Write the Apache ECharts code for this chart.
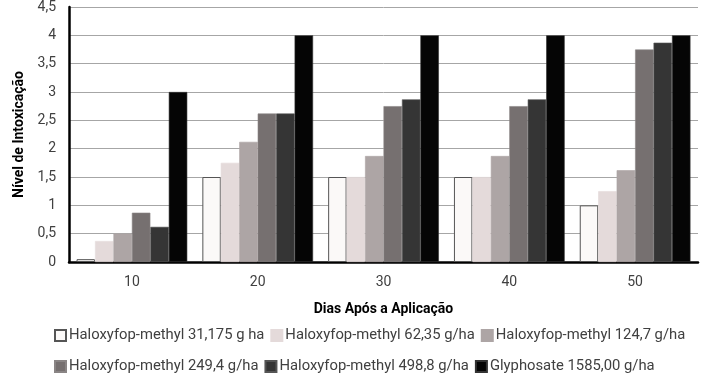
<!DOCTYPE html>
<html><head><meta charset="utf-8">
<script src="https://cdn.jsdelivr.net/npm/echarts@6/dist/echarts.min.js"></script>
<style>html,body{margin:0;padding:0;background:#fff}#c{width:702px;height:381px}</style>
</head><body><div id="c"></div>
<script>
const categories = ['10','20','30','40','50'];
const seriesNames = ['Haloxyfop-methyl 31,175 g ha','Haloxyfop-methyl 62,35 g/ha','Haloxyfop-methyl 124,7 g/ha','Haloxyfop-methyl 249,4 g/ha','Haloxyfop-methyl 498,8 g/ha','Glyphosate 1585,00 g/ha'];
const s1 = [0.05, 1.5, 1.5, 1.5, 1.0];
const s2 = [0.37, 1.75, 1.5, 1.5, 1.25];
const s3 = [0.5, 2.12, 1.87, 1.87, 1.62];
const s4 = [0.87, 2.62, 2.75, 2.75, 3.75];
const s5 = [0.62, 2.62, 2.87, 2.87, 3.87];
const s6 = [3.0, 4.0, 4.0, 4.0, 4.0];
const colors = ['#FBF9F8','#E4DADA','#ADA5A5','#767070','#353535','#050505'];
const borders = ['#555555','#E4DADA','#ADA5A5','#8a8585','#555555','#333333'];
const allData = [s1,s2,s3,s4,s5,s6];
const font = 'Roboto';
const legendBase = {left:54,width:700,padding:0,itemWidth:11,itemHeight:11,itemGap:6,icon:'rect',
  textStyle:{color:'#404040',fontSize:14.8,fontFamily:font,padding:[0,0,0,-2]}};
const chart = echarts.init(document.getElementById('c'));
chart.setOption({
  animation:false,
  textStyle:{fontFamily:font},
  grid:{left:69,right:4,top:6,bottom:119},
  xAxis:{type:'category',data:categories,
    axisLine:{lineStyle:{color:'#000',width:2.5}},
    axisTick:{show:false},
    axisLabel:{color:'#404040',fontSize:14,margin:13,fontFamily:font},
    name:'Dias Após a Aplicação',nameLocation:'middle',nameGap:40,
    nameTextStyle:{color:'#000',fontSize:14,fontWeight:'bold',fontFamily:font}},
  yAxis:{type:'value',min:0,max:4.5,interval:0.5,
    axisLine:{show:true,lineStyle:{color:'#000',width:2.5}},
    axisTick:{show:false},
    splitLine:{lineStyle:{color:'#A6A6A6',width:1}},
    axisLabel:{color:'#404040',fontSize:14,margin:13,fontFamily:font,
      formatter:v=>String(v).replace('.',',')},
    name:'Nível de Intoxicação',nameLocation:'middle',nameGap:40,
    nameTextStyle:{color:'#000',fontSize:14,fontWeight:'bold',fontFamily:font}},
  legend:[
    Object.assign({data:seriesNames.slice(0,3),top:328},legendBase),
    Object.assign({data:seriesNames.slice(3),top:359},legendBase)
  ],
  series: allData.map((d,i)=>({
    type:'bar',name:seriesNames[i],data:d,
    barGap:'0%',barCategoryGap:'12%',
    itemStyle:{color:colors[i],borderColor:borders[i],borderWidth:i===0?1:0.6}
  }))
});
</script></body></html>
